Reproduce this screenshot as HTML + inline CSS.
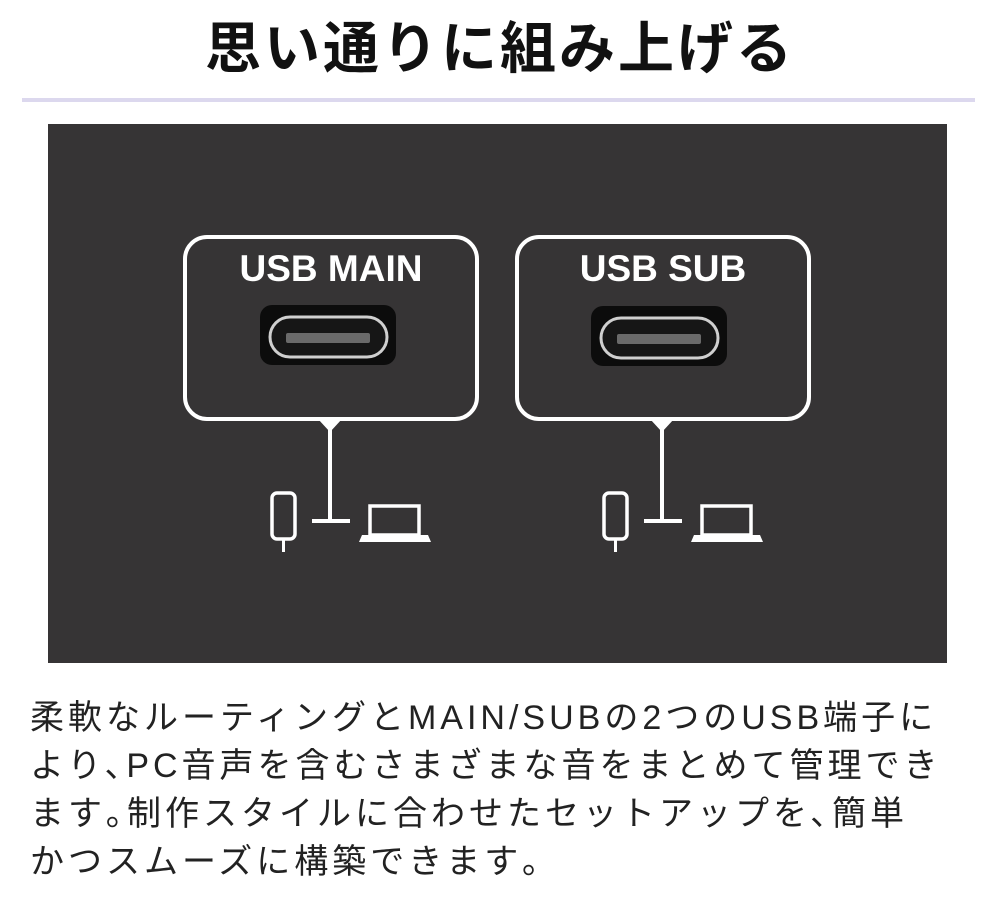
<!DOCTYPE html>
<html><head><meta charset="utf-8"><style>
html,body{margin:0;padding:0;background:#fff;width:1000px;height:900px;overflow:hidden}
.t{position:absolute;left:0;width:1000px;top:14px;text-align:center;font-family:"Liberation Sans","Noto Sans CJK JP",sans-serif;font-weight:bold;font-size:56px;letter-spacing:3px;color:#111;line-height:70px}
.b{position:absolute;left:30px;top:694px;width:970px;font-family:"Liberation Sans","Noto Sans CJK JP",sans-serif;font-size:34px;letter-spacing:4px;line-height:48px;color:#222;white-space:nowrap}
</style></head><body>
<div class="t">思い通りに組み上げる</div>
<div style="position:absolute;left:22px;top:98px;width:953px;height:4px;background:#dcd8ee"></div>
<svg style="position:absolute;left:0;top:0" width="1000" height="900">
<rect x="48" y="124" width="899" height="539" fill="#363435"/>
<g>
<rect x="185" y="237" width="292" height="182" rx="22" fill="none" stroke="#fff" stroke-width="4"/>
<path d="M318 419 L330 432 L342 419 Z" fill="#fff"/>
<line x1="330" y1="425" x2="330" y2="521" stroke="#fff" stroke-width="4"/>
<line x1="312" y1="521" x2="350" y2="521" stroke="#fff" stroke-width="4"/>
<rect x="272" y="493" width="23" height="46" rx="5" fill="none" stroke="#fff" stroke-width="3.5"/>
<line x1="283.5" y1="539" x2="283.5" y2="552" stroke="#fff" stroke-width="3"/>
<rect x="370" y="506" width="49" height="29" fill="none" stroke="#fff" stroke-width="3.5"/>
<path d="M362 535 L428 535 L431 542 L359 542 Z" fill="#fff"/>
<rect x="260" y="305" width="136" height="60" rx="12" fill="#0c0c0c"/>
<rect x="270" y="317" width="117" height="40" rx="20" fill="#161616" stroke="#cfcfcf" stroke-width="3"/>
<rect x="286" y="333" width="84" height="10" rx="2" fill="#6a6a6a"/>
<text x="331" y="281" text-anchor="middle" font-family="Liberation Sans,sans-serif" font-weight="bold" font-size="37" fill="#fff">USB MAIN</text>
</g>
<g transform="translate(332,0)">
<rect x="185" y="237" width="292" height="182" rx="22" fill="none" stroke="#fff" stroke-width="4"/>
<path d="M318 419 L330 432 L342 419 Z" fill="#fff"/>
<line x1="330" y1="425" x2="330" y2="521" stroke="#fff" stroke-width="4"/>
<line x1="312" y1="521" x2="350" y2="521" stroke="#fff" stroke-width="4"/>
<rect x="272" y="493" width="23" height="46" rx="5" fill="none" stroke="#fff" stroke-width="3.5"/>
<line x1="283.5" y1="539" x2="283.5" y2="552" stroke="#fff" stroke-width="3"/>
<rect x="370" y="506" width="49" height="29" fill="none" stroke="#fff" stroke-width="3.5"/>
<path d="M362 535 L428 535 L431 542 L359 542 Z" fill="#fff"/>
<rect x="259" y="306" width="136" height="60" rx="12" fill="#0c0c0c"/>
<rect x="269" y="318" width="117" height="40" rx="20" fill="#161616" stroke="#cfcfcf" stroke-width="3"/>
<rect x="285" y="334" width="84" height="10" rx="2" fill="#6a6a6a"/>
<text x="331" y="281" text-anchor="middle" font-family="Liberation Sans,sans-serif" font-weight="bold" font-size="37" fill="#fff">USB SUB</text>
</g>
</svg>
<div class="b">柔軟なルーティングとMAIN/SUBの2つのUSB端子に<br>より､PC音声を含むさまざまな音をまとめて管理でき<br>ます｡制作スタイルに合わせたセットアップを､簡単<br>かつスムーズに構築できます｡</div>
</body></html>
